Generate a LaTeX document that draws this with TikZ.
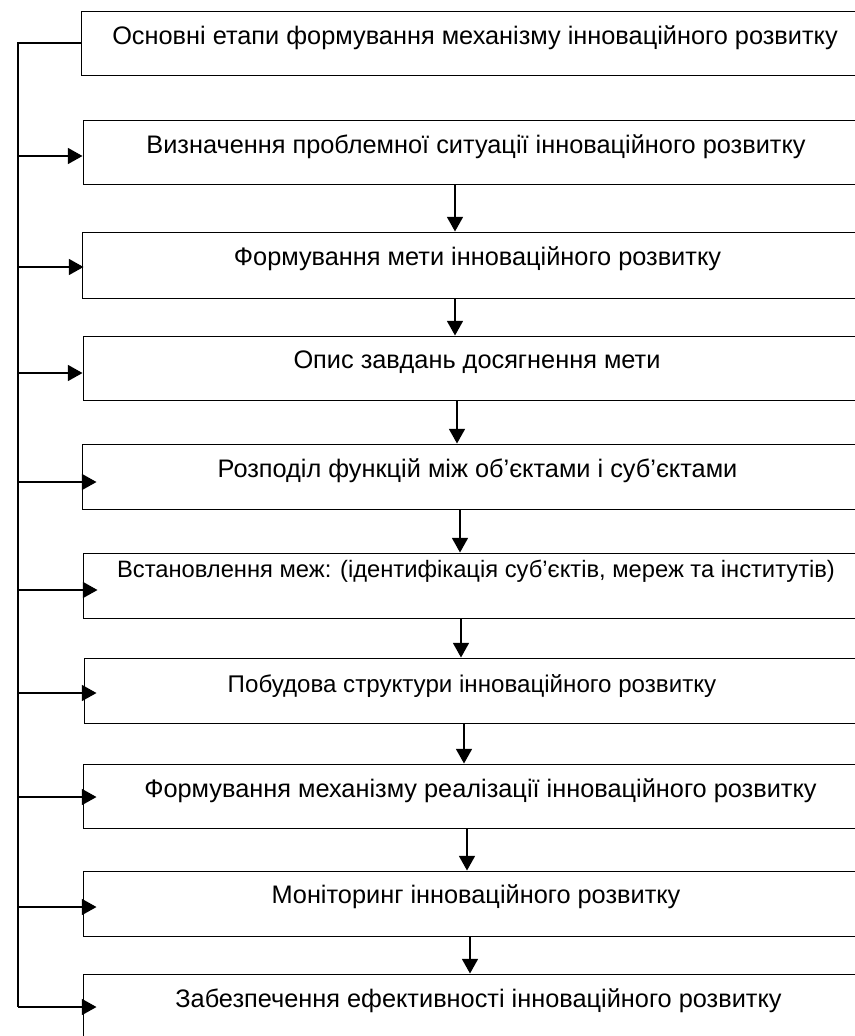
\documentclass[tikz,border=0pt]{standalone}
\usepackage{fontspec}
\setmainfont{Liberation Sans}
\usetikzlibrary{arrows.meta,fit,calc}
\begin{document}
\begin{tikzpicture}[x=0.75pt,y=-0.75pt,
  box/.style={draw,line width=0.75pt,inner sep=0pt,rectangle},
  txt/.style={anchor=base,inner sep=0pt,font=\fontsize{19}{22}\selectfont},
  midtxt/.style={anchor=base,inner sep=0pt,font=\fontsize{18.1}{21}\selectfont},
  smalltxt/.style={anchor=base,inner sep=0pt,font=\fontsize{17.8}{21}\selectfont},
  link/.style={line width=1.2pt},
  arr/.style={link,-{Triangle[length=11pt,width=12pt]}}]
\useasboundingbox (0,0) rectangle (855,1036);
\fill[white] (0,0) rectangle (855,1036);
\clip (0,0) rectangle (855,1036);
% boxes
\node[box,fit={(81,11) (878,75)}] (b1) {};
\node[box,fit={(83,120) (878,184)}] (b2) {};
\node[box,fit={(82,232) (878,298)}] (b3) {};
\node[box,fit={(83,336) (878,400)}] (b4) {};
\node[box,fit={(82,444) (878,509)}] (b5) {};
\node[box,fit={(83,553) (878,618)}] (b6) {};
\node[box,fit={(84,658) (878,723)}] (b7) {};
\node[box,fit={(83,764) (878,828)}] (b8) {};
\node[box,fit={(83,871) (878,936)}] (b9) {};
\node[box,fit={(83,974) (878,1045)}] (b10) {};
% texts
\node[txt] (t1) at (475,44) {Основні етапи формування механізму інноваційного розвитку};
\node[txt] (t2) at (476,153) {Визначення проблемної ситуації інноваційного розвитку};
\node[txt] (t3) at (477.5,265) {Формування мети інноваційного розвитку};
\node[txt] (t4) at (477,368) {Опис завдань досягнення мети};
\node[txt] (t5) at (477.5,477) {Розподіл функцій між об’єктами і суб’єктами};
\node[smalltxt] (t6) at (476,577) {Встановлення меж: (ідентифікація суб’єктів, мереж та інститутів)};
\node[midtxt] (t7) at (472,692) {Побудова структури інноваційного розвитку};
\node[txt] (t8) at (480.5,797) {Формування механізму реалізації інноваційного розвитку};
\node[txt] (t9) at (476,903) {Моніторинг інноваційного розвитку};
\node[txt] (t10) at (478.5,1007) {Забезпечення ефективності інноваційного розвитку};
% helper coordinates
\coordinate (sp) at (18,0);
\coordinate (r2) at (0,156);
\coordinate (r3) at (0,267);
\coordinate (r4) at (0,373);
\coordinate (r5) at (0,482);
\coordinate (r6) at (0,590);
\coordinate (r7) at (0,693);
\coordinate (r8) at (0,797);
\coordinate (r9) at (0,907);
\coordinate (r10) at (0,1007);
\coordinate (v23) at (455,0);
\coordinate (v34) at (455,0);
\coordinate (v45) at (457,0);
\coordinate (v56) at (460,0);
\coordinate (v67) at (461,0);
\coordinate (v78) at (464,0);
\coordinate (v89) at (467,0);
\coordinate (v910) at (470,0);
% spine
\draw[link] (b1.west) -- (sp |- b1.west) -- (sp |- r10);
% horizontal arrows
\draw[arr] (sp |- r2) -- (b2.west |- r2);
\draw[arr] (sp |- r3) -- ($(b3.west |- r3)+(2,0)$);
\draw[arr] (sp |- r4) -- (b4.west |- r4);
\draw[arr] (sp |- r5) -- ($(b5.west |- r5)+(15,0)$);
\draw[arr] (sp |- r6) -- ($(b6.west |- r6)+(15,0)$);
\draw[arr] (sp |- r7) -- ($(b7.west |- r7)+(13,0)$);
\draw[arr] (sp |- r8) -- ($(b8.west |- r8)+(14,0)$);
\draw[arr] (sp |- r9) -- ($(b9.west |- r9)+(14,0)$);
\draw[arr] (sp |- r10) -- ($(b10.west |- r10)+(14,0)$);
% vertical arrows
\draw[arr] (b2.south -| v23) -- (b3.north -| v23);
\draw[arr] (b3.south -| v34) -- (b4.north -| v34);
\draw[arr] (b4.south -| v45) -- (b5.north -| v45);
\draw[arr] (b5.south -| v56) -- (b6.north -| v56);
\draw[arr] (b6.south -| v67) -- (b7.north -| v67);
\draw[arr] (b7.south -| v78) -- (b8.north -| v78);
\draw[arr] (b8.south -| v89) -- (b9.north -| v89);
\draw[arr] (b9.south -| v910) -- (b10.north -| v910);
\end{tikzpicture}
\end{document}
